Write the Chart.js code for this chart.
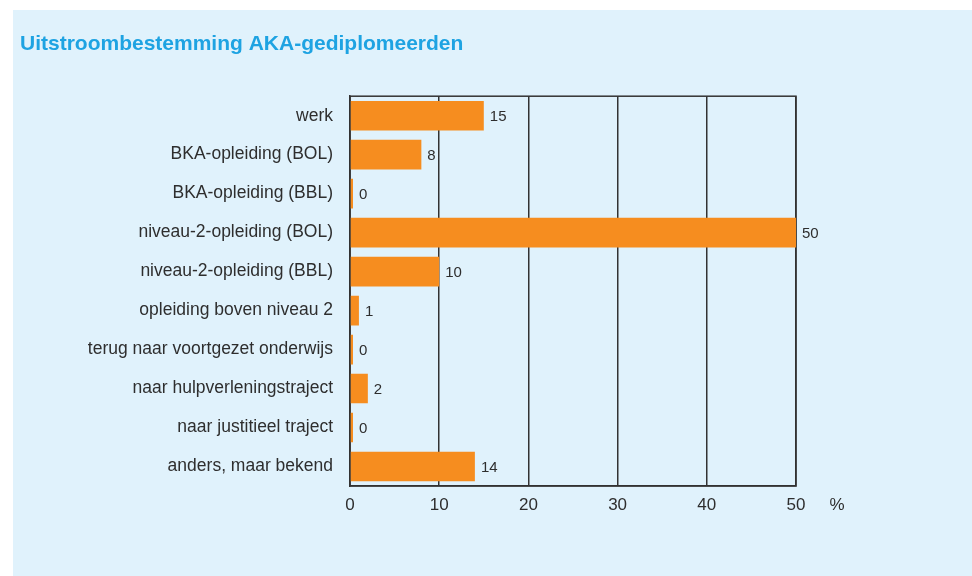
<!DOCTYPE html>
<html>
<head>
<meta charset="utf-8">
<script src="https://cdn.jsdelivr.net/npm/chart.js@4.4.1/dist/chart.umd.min.js"></script>
<style>
  html, body { margin: 0; padding: 0; background: #ffffff; }
  #wrap { position: relative; width: 972px; height: 576px; }
</style>
</head>
<body>
<div id="wrap"><canvas id="grafico"></canvas></div>
<script>
const titel = 'Uitstroombestemming AKA-gediplomeerden';
const categorieen = [
  'werk',
  'BKA-opleiding (BOL)',
  'BKA-opleiding (BBL)',
  'niveau-2-opleiding (BOL)',
  'niveau-2-opleiding (BBL)',
  'opleiding boven niveau 2',
  'terug naar voortgezet onderwijs',
  'naar hulpverleningstraject',
  'naar justitieel traject',
  'anders, maar bekend'
];
const percentages = [15, 8, 0, 50, 10, 1, 0, 2, 0, 14];
const xTicks = [0, 10, 20, 30, 40, 50];
const eenheid = '%';

const lijnKleur = '#333333';
const tekstKleur = '#2e2e2e';
const oranje = '#f68d1f';
const paneelKleur = '#e0f2fc';

// lichtblauw paneel achter de grafiek
const paneel = {
  id: 'paneel',
  beforeDraw(chart) {
    const ctx = chart.ctx;
    ctx.save();
    ctx.fillStyle = '#ffffff';
    ctx.fillRect(0, 0, chart.width, chart.height);
    ctx.fillStyle = paneelKleur;
    ctx.fillRect(13, 10, chart.width - 13, chart.height - 10);
    ctx.restore();
  }
};

// kader rond het plotgebied, onder de balken
const kader = {
  id: 'kader',
  beforeDatasetsDraw(chart) {
    const { ctx, chartArea } = chart;
    ctx.save();
    ctx.strokeStyle = lijnKleur;
    ctx.lineWidth = 1.5;
    ctx.strokeRect(chartArea.left, chartArea.top, chartArea.right - chartArea.left, chartArea.bottom - chartArea.top);
    ctx.restore();
  }
};

// waarden naast de balken en het %-teken bij de as
const waarden = {
  id: 'waarden',
  afterDatasetsDraw(chart) {
    const ctx = chart.ctx;
    const meta = chart.getDatasetMeta(0);
    ctx.save();
    ctx.fillStyle = tekstKleur;
    ctx.font = '15px "Liberation Sans", Arial, sans-serif';
    ctx.textAlign = 'left';
    ctx.textBaseline = 'middle';
    meta.data.forEach((bar, i) => {
      ctx.fillText(String(percentages[i]), bar.x + 6, bar.y + 1);
    });
    const xAs = chart.scales.x;
    ctx.font = '17px "Liberation Sans", Arial, sans-serif';
    ctx.textAlign = 'center';
    ctx.fillText(eenheid, xAs.right + 41, xAs.top + 19);
    ctx.restore();
  }
};

new Chart(document.getElementById('grafico'), {
  type: 'bar',
  data: {
    labels: categorieen,
    datasets: [{
      data: percentages,
      backgroundColor: oranje,
      borderWidth: 0,
      barPercentage: 0.76,
      categoryPercentage: 1,
      minBarLength: 3
    }]
  },
  options: {
    indexAxis: 'y',
    responsive: true,
    maintainAspectRatio: false,
    animation: false,
    layout: { padding: { left: 20, right: 176, top: 0, bottom: 0 } },
    plugins: {
      legend: { display: false },
      tooltip: { enabled: false },
      title: {
        display: true,
        text: titel,
        align: 'start',
        color: '#1ea3e2',
        font: { family: '"Liberation Sans", Arial, sans-serif', size: 21, weight: 'bold' },
        padding: { top: 32, bottom: 39 }
      }
    },
    scales: {
      x: {
        min: xTicks[0],
        max: xTicks[xTicks.length - 1],
        afterBuildTicks(scale) {
          scale.ticks = xTicks.map((v) => ({ value: v }));
        },
        afterFit(scale) {
          scale.height = 90;
        },
        grid: { color: lijnKleur, lineWidth: 1.5, drawTicks: false },
        border: { display: true, color: lijnKleur, width: 1.5 },
        ticks: {
          color: tekstKleur,
          padding: 9,
          font: { family: '"Liberation Sans", Arial, sans-serif', size: 17 }
        }
      },
      y: {
        afterFit(scale) {
          scale.width = 330;
        },
        grid: { display: false, drawTicks: false },
        border: { display: true, color: lijnKleur, width: 1.5 },
        ticks: {
          color: tekstKleur,
          padding: 17,
          font: { family: '"Liberation Sans", Arial, sans-serif', size: 17.5 }
        }
      }
    }
  },
  plugins: [paneel, kader, waarden]
});
</script>
</body>
</html>
